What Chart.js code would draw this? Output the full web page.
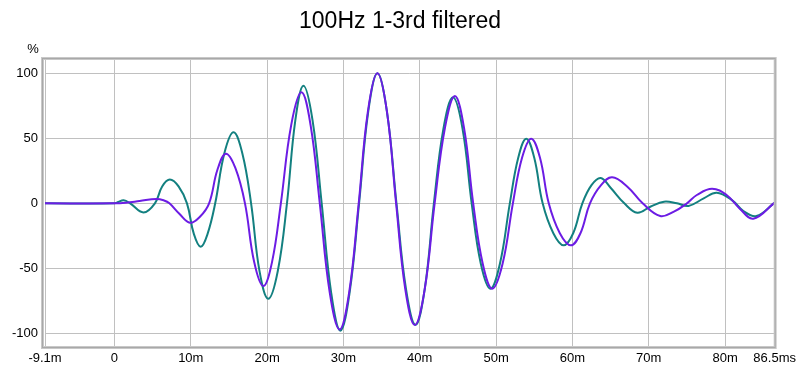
<!DOCTYPE html>
<html lang="en">
<head>
    <meta charset="UTF-8">
    <title>100Hz 1-3rd filtered</title>
    <script src="https://cdn.jsdelivr.net/npm/chart.js"></script>
    <style>
        body { margin: 0; padding: 0; background: #fff; }
        .wrap { width: 800px; height: 370px; position: relative; }
    </style>
</head>
<body>
    <div class="wrap">
        <canvas id="impulseChart"></canvas>
    </div>

    <script>
        // axis ticks (ms / %)
        const xTicks = [-9.1, 0, 10, 20, 30, 40, 50, 60, 70, 80, 86.5];
        const yTicks = [-100, -50, 0, 50, 100];

        // teal trace: time (ms) and value (%)
        const tealTime = [-9.1, 0, 0.5, 1.2, 2.05, 3.8, 5.3, 6.25, 7.26, 8.4, 9.5, 10.4, 11.3, 12.2, 13.2,
            14.4, 15.6, 16.75, 17.9, 19.0, 20.15, 21.4, 22.6, 23.7, 24.76, 25.95, 27.15, 28.4, 29.6,
            30.8, 32.05, 33.25, 34.45, 35.7, 36.95, 38.2, 39.45, 40.65, 41.85, 43.1, 44.35, 45.6, 46.8,
            48.0, 49.25, 50.5, 51.8, 52.9, 53.95, 55.0, 56.1, 57.5, 58.85, 60.1, 61.3, 62.5, 63.7,
            65.0, 66.8, 68.5, 70.2, 72.0, 73.7, 75.2, 77.2, 78.9, 80.9, 82.4, 84.1, 86.5];
        const tealValue = [0, 0, 1, 2.3, 0, -7, 0, 13, 18.3, 13, 0, -23.5, -33.4, -23.5, 0,
            38.5, 54.6, 38.5, 0, -52, -73.4, -52, 0, 64, 90.5, 64, 0, -69, -98,
            -69, 0, 70.5, 100, 70.5, 0, -66, -93.5, -66, 0, 57.5, 81.5, 57.5, 0,
            -46.5, -65.7, -46.5, 0, 35, 49.7, 35, 0, -23, -32.3, -23, 0, 14, 19.5,
            12, 0, -7.2, -2.6, 1.3, 0, -2, 3.8, 8.2, 2.5, -5.9, -9.8, 0.5];

        // purple trace
        const purpleTime = [-9.1, 0, 1.5, 3.3, 5.5, 6.5, 7.2, 8.5, 9.9, 11.2, 12.4, 13.5, 14.6, 15.85,
            17.1, 18.3, 19.5, 20.65, 21.8, 23.15, 24.5, 25.7, 26.9, 28.2, 29.5, 30.75, 32.0, 33.2,
            34.45, 35.7, 36.9, 38.1, 39.35, 40.65, 41.95, 43.3, 44.6, 45.8, 47.0, 48.25, 49.5, 50.85,
            52.2, 53.4, 54.6, 55.75, 56.9, 58.35, 59.8, 61.05, 62.3, 63.75, 65.2, 67.2, 69.2, 71.5,
            73.3, 75.0, 76.3, 78.3, 80.2, 81.9, 83.7, 86.5];
        const purpleValue = [0, 0, 0.5, 1.8, 3.4, 2.2, 0, -8, -14.9, -10.3, 0, 26, 38.2, 27,
            0, -45, -63.6, -45, 0, 60, 85.4, 60, 0, -68.5, -97, -68.5, 0, 70.5,
            100, 70.5, 0, -66, -93.6, -66, 0, 58, 82.5, 58, 0, -46.5, -65.7, -46.5,
            0, 35, 49.7, 35, 0, -23, -32.3, -23, 0, 14, 20, 12.8, 0, -9.8,
            -6.4, 0, 6.4, 11.2, 6.4, -3.9, -11.8, 0.5];

        const toPoints = (xs, ys) => xs.map((x, i) => ({ x: x, y: ys[i] }));

        const FONT = "'Liberation Sans', Arial, sans-serif";

        // frame, title and unit label
        const decorations = {
            id: 'decorations',
            afterDatasetsDraw(chart) {
                const { ctx, chartArea: a } = chart;
                const l = a.left - 2.5, t = a.top - 0.5, w = a.right - l + 0.5, h = a.bottom - t + 0.5;
                ctx.save();
                ctx.strokeStyle = '#c8c8c8';
                ctx.lineWidth = 3;
                ctx.strokeRect(l, t, w, h);
                ctx.strokeStyle = '#a8a8a8';
                ctx.lineWidth = 1;
                ctx.strokeRect(l, t, w, h);
                ctx.restore();
            },
            afterDraw(chart) {
                const ctx = chart.ctx;
                ctx.save();
                ctx.fillStyle = '#000';
                ctx.textAlign = 'center';
                ctx.textBaseline = 'middle';
                ctx.font = '23px ' + FONT;
                ctx.fillText('100Hz 1-3rd filtered', 400, 22);
                ctx.font = '13px ' + FONT;
                ctx.fillText('%', 33, 49);
                ctx.restore();
            }
        };

        const ctx = document.getElementById('impulseChart').getContext('2d');

        new Chart(ctx, {
            type: 'line',
            data: {
                datasets: [
                    {
                        label: 'purple',
                        data: toPoints(purpleTime, purpleValue),
                        borderColor: '#6c1ce4',
                        borderWidth: 2,
                        pointRadius: 0,
                        tension: 0.4,
                        fill: false
                    },
                    {
                        label: 'teal',
                        data: toPoints(tealTime, tealValue),
                        borderColor: '#138080',
                        borderWidth: 2,
                        pointRadius: 0,
                        tension: 0.4,
                        fill: false
                    }
                ]
            },
            options: {
                responsive: true,
                maintainAspectRatio: false,
                animation: false,
                layout: { padding: { left: 0, right: 22, top: 59, bottom: 0 } },
                plugins: {
                    legend: { display: false },
                    tooltip: { enabled: false }
                },
                scales: {
                    x: {
                        type: 'linear',
                        min: -9.1,
                        max: 86.5,
                        afterBuildTicks: axis => { axis.ticks = xTicks.map(v => ({ value: v })); },
                        afterFit: axis => { axis.height = 23; },
                        grid: { color: '#c0c0c0', drawTicks: false },
                        border: { display: false },
                        ticks: {
                            autoSkip: false,
                            maxRotation: 0,
                            padding: 4,
                            color: '#000',
                            font: { family: FONT, size: 13 },
                            callback: v => {
                                if (v === 0) return '0';
                                if (v === 86.5) return '86.5ms';
                                return v + 'm';
                            }
                        }
                    },
                    y: {
                        min: -110.5,
                        max: 111,
                        afterBuildTicks: axis => { axis.ticks = yTicks.map(v => ({ value: v })); },
                        afterFit: axis => { axis.width = 45; },
                        grid: { color: '#c0c0c0', drawTicks: false },
                        border: { display: false },
                        ticks: {
                            padding: 7,
                            color: '#000',
                            font: { family: FONT, size: 13 }
                        }
                    }
                }
            },
            plugins: [decorations]
        });
    </script>
</body>
</html>
